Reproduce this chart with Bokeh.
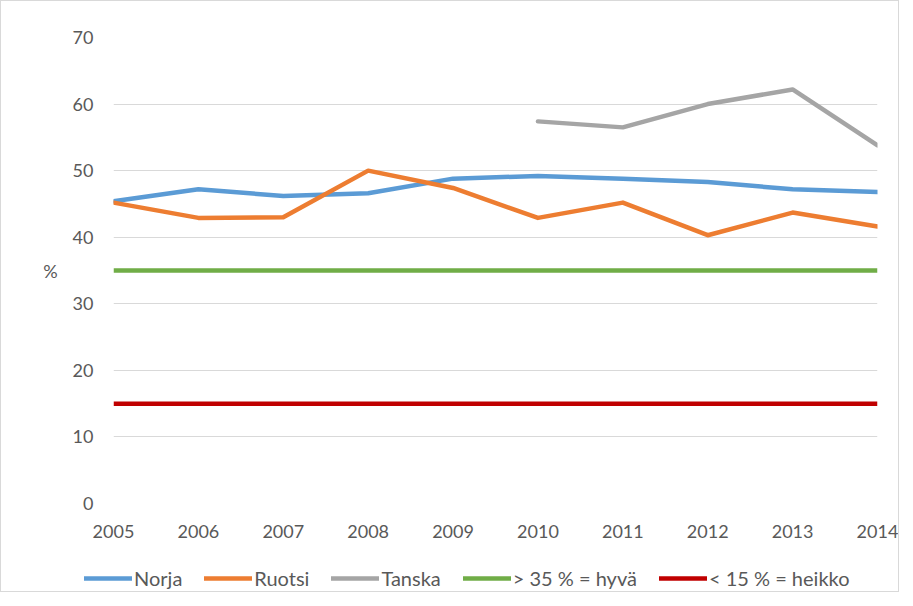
from bokeh.plotting import figure
from bokeh.models import Range1d, FixedTicker, Legend, LegendItem
from bokeh.layouts import column
from bokeh.embed import file_html
from bokeh.resources import INLINE

years = [2005, 2006, 2007, 2008, 2009, 2010, 2011, 2012, 2013, 2014]
norja = [45.4, 47.2, 46.2, 46.6, 48.8, 49.2, 48.8, 48.3, 47.2, 46.8]
ruotsi = [45.2, 42.9, 43.0, 50.0, 47.4, 42.9, 45.2, 40.3, 43.7, 41.6]
tanska_years = [2010, 2011, 2012, 2013, 2014]
tanska = [57.4, 56.5, 60.0, 62.2, 53.8]
hyva = [35] * len(years)
heikko = [15] * len(years)
y_ticks = [0, 10, 20, 30, 40, 50, 60, 70]

series_names = ["Norja", "Ruotsi", "Tanska", "> 35 % = hyvä", "< 15 % = heikko"]
series_colors = ["#5b9bd5", "#ed7d31", "#a5a5a5", "#70ad47", "#c00000"]

FONT = "Lato"
TXT = "#595959"
W = 897

p = figure(width=W, height=546, output_backend="svg", toolbar_location=None,
           x_range=Range1d(2005, 2014), y_range=Range1d(0, 70),
           min_border_left=112, min_border_right=21, min_border_top=36, min_border_bottom=44)
p.outline_line_color = None
p.xgrid.grid_line_color = None
p.ygrid.grid_line_color = "#d9d9d9"
p.ygrid.grid_line_width = 1
p.frame_align = False

p.xaxis.ticker = FixedTicker(ticks=years)
p.yaxis.ticker = FixedTicker(ticks=y_ticks)
for ax in (p.xaxis[0], p.yaxis[0]):
    ax.axis_line_color = None
    ax.major_tick_line_color = None
    ax.minor_tick_line_color = None
    ax.major_label_text_font = FONT
    ax.major_label_text_font_size = "18px"
    ax.major_label_text_color = TXT
p.xaxis.major_label_standoff = 15
p.yaxis.major_label_standoff = 14
p.yaxis.axis_label = "%"
p.yaxis.axis_label_orientation = "horizontal"
p.yaxis.axis_label_text_font = FONT
p.yaxis.axis_label_text_font_size = "18px"
p.yaxis.axis_label_text_font_style = "normal"
p.yaxis.axis_label_text_color = TXT
p.yaxis.axis_label_standoff = 12

lw = 4.5
p.line(years, norja, line_color=series_colors[0], line_width=lw, line_join="round", line_cap="round")
p.line(years, ruotsi, line_color=series_colors[1], line_width=lw, line_join="round", line_cap="round")
p.line(tanska_years, tanska, line_color=series_colors[2], line_width=lw, line_join="round", line_cap="round")
p.line(years, hyva, line_color=series_colors[3], line_width=lw)
p.line(years, heikko, line_color=series_colors[4], line_width=lw)

# legend strip below the chart
lg = figure(width=W, height=44, output_backend="svg", toolbar_location=None,
            x_range=Range1d(0, 1), y_range=Range1d(0, 1),
            x_axis_location=None, y_axis_location=None, min_border=0)
lg.outline_line_color = None
lg.grid.visible = False
lg.frame_align = False
nan = float("nan")
items = []
for name, col in zip(series_names, series_colors):
    r = lg.line(x=[nan], y=[nan], line_color=col, line_width=lw, line_cap="round")
    items.append(LegendItem(label=name, renderers=[r]))
legend = Legend(items=items, orientation="horizontal", location=(83, 1),
                glyph_width=48, glyph_height=20, label_standoff=2, spacing=22,
                padding=0, margin=0, border_line_color=None, background_fill_alpha=0,
                label_text_font=FONT, label_text_font_size="20px", label_text_color=TXT)
lg.add_layout(legend, "center")

layout = column(p, lg, spacing=0, styles={"border": "1px solid #d9d9d9"})
open("out.html", "w").write(file_html(layout, INLINE))
